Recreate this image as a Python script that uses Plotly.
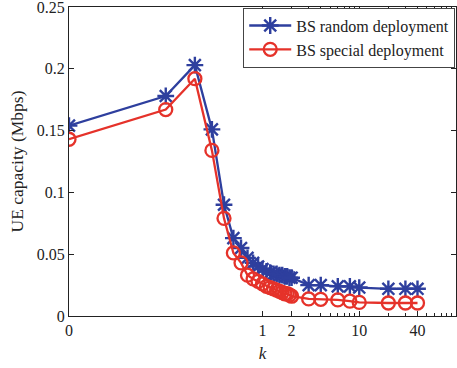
import plotly.graph_objects as go

k_vals = [0.01, 0.1, 0.2, 0.3, 0.4, 0.5, 0.6, 0.7, 0.8, 0.9, 1.0,
          1.1, 1.2, 1.3, 1.4, 1.5, 1.6, 1.7, 1.8, 1.9, 2.0,
          3, 4, 6, 8, 10, 20, 30, 40]

random_dep = [0.154, 0.178, 0.203, 0.151, 0.090, 0.063, 0.055, 0.047, 0.043, 0.040, 0.038,
              0.036, 0.035, 0.034, 0.034, 0.033, 0.033, 0.032, 0.032, 0.031, 0.031,
              0.025, 0.025, 0.024, 0.024, 0.023, 0.022, 0.022, 0.022]

special_dep = [0.143, 0.167, 0.192, 0.134, 0.079, 0.051, 0.043, 0.033, 0.030, 0.028, 0.026,
               0.024, 0.023, 0.022, 0.021, 0.020, 0.019, 0.018, 0.018, 0.017, 0.016,
               0.0138, 0.0135, 0.013, 0.012, 0.011, 0.0105, 0.0105, 0.0105]

x_tickvals = [0.01, 1, 2, 10, 40]
x_ticktext = ["0", "1", "2", "10", "40"]
x_minor = [3, 4, 5, 6, 7, 8, 9, 20, 30, 50, 60, 70, 80, 90]
y_tickvals = [0, 0.05, 0.1, 0.15, 0.2, 0.25]
y_ticktext = ["0", "0.05", "0.1", "0.15", "0.2", "0.25"]

BLUE = "#2E3F9E"
RED = "#E5322A"
FONT = "Liberation Serif"

fig = go.Figure()
fig.add_trace(go.Scatter(
    x=k_vals, y=random_dep, name="BS random deployment", mode="lines+markers",
    line=dict(color=BLUE, width=2.3),
    marker=dict(symbol="asterisk-open", size=14, color=BLUE, line=dict(color=BLUE, width=2.4)),
))
fig.add_trace(go.Scatter(
    x=k_vals, y=special_dep, name="BS special deployment", mode="lines+markers",
    line=dict(color=RED, width=2.3),
    marker=dict(symbol="circle-open", size=13, color=RED, line=dict(color=RED, width=2.3)),
))

fig.update_layout(
    width=457, height=368,
    margin=dict(l=69, r=1, t=7, b=52, autoexpand=False),
    paper_bgcolor="white", plot_bgcolor="white",
    font=dict(family=FONT, size=16, color="#222222"),
    showlegend=True,
    legend=dict(
        x=0.998, y=0.998, xanchor="right", yanchor="top",
        bgcolor="white", bordercolor="#444444", borderwidth=1,
        font=dict(family=FONT, size=16, color="#222222"),
        tracegroupgap=0, itemwidth=42,
    ),
)
fig.update_xaxes(
    type="log", range=[-2, 2],
    tickmode="array", tickvals=x_tickvals, ticktext=x_ticktext,
    ticks="inside", ticklen=5, tickcolor="#222222",
    showline=True, linecolor="#222222", linewidth=1, mirror="allticks",
    showgrid=False, zeroline=False, automargin=False, ticklabeloverflow="allow",
    minor=dict(tickmode="array", tickvals=x_minor, ticks="inside", ticklen=3, tickcolor="#222222", showgrid=False),
    title=dict(text="<i>k</i>", font=dict(family=FONT, size=17), standoff=8),
    tickfont=dict(family=FONT, size=16),
)
fig.update_yaxes(
    range=[0, 0.25],
    tickmode="array", tickvals=y_tickvals, ticktext=y_ticktext,
    ticks="inside", ticklen=5, tickcolor="#222222",
    showline=True, linecolor="#222222", linewidth=1, mirror="allticks",
    showgrid=False, zeroline=False, automargin=False, ticklabeloverflow="allow",
    title=dict(text="UE capacity (Mbps)", font=dict(family=FONT, size=17.5), standoff=8),
    tickfont=dict(family=FONT, size=16),
)

fig.write_html("out.html", config={"displayModeBar": False},
               post_script="document.body.style.margin='0';document.body.style.padding='0';")
